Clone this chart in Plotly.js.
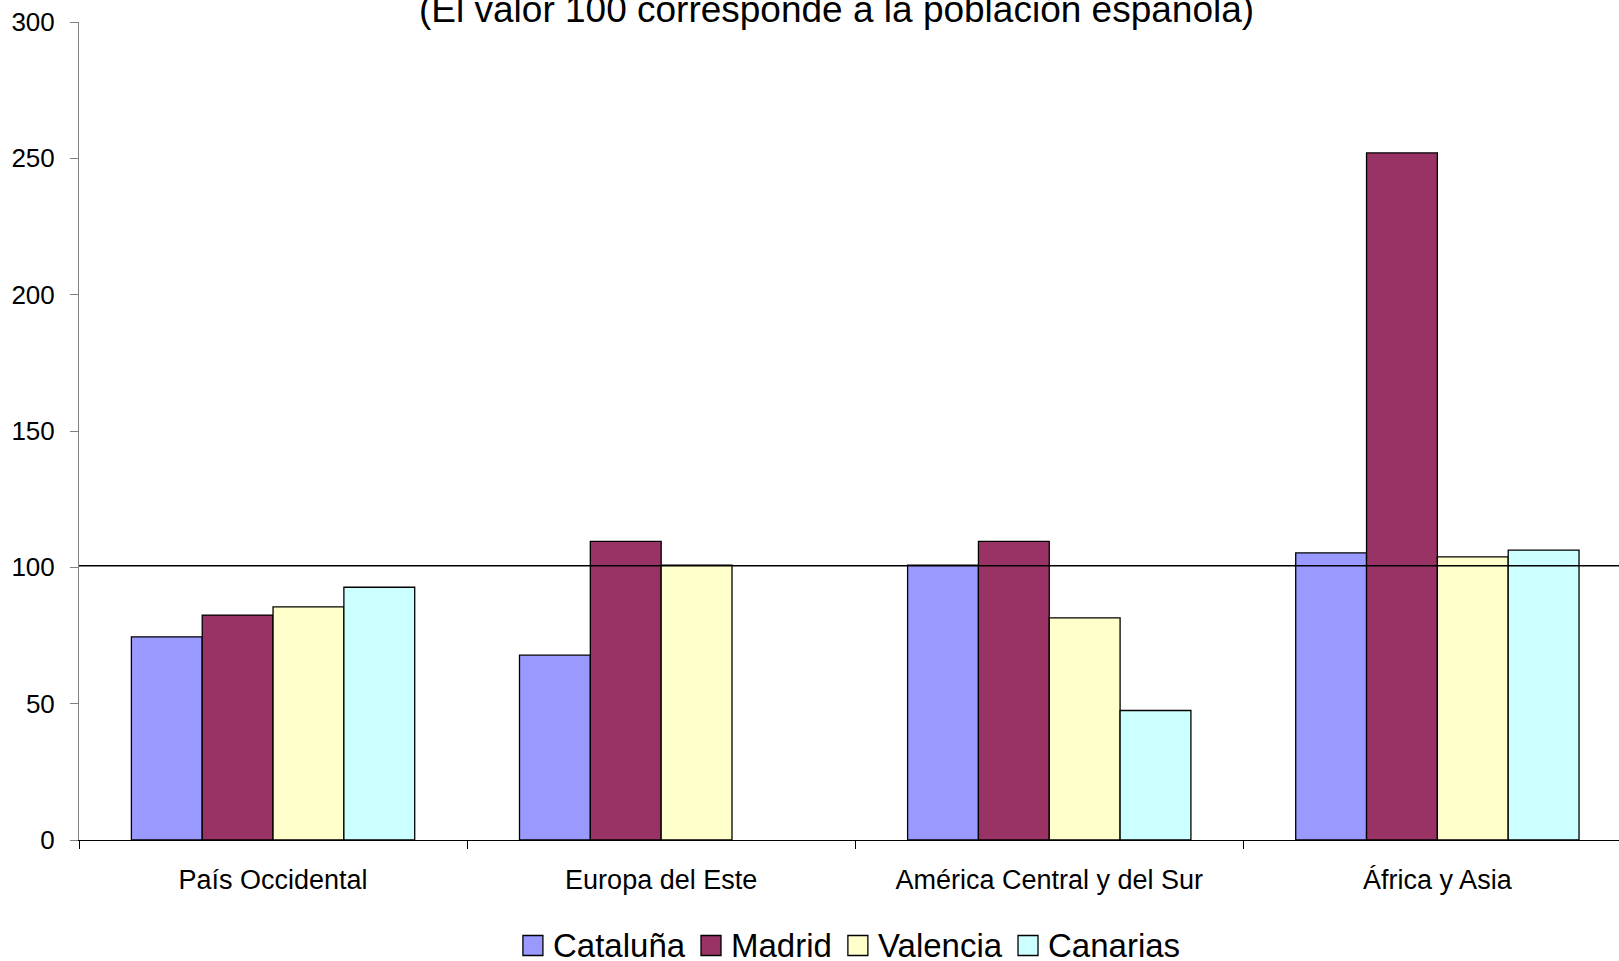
<!DOCTYPE html>
<html>
<head>
<meta charset="utf-8">
<script src="https://cdn.plot.ly/plotly-3.0.1.min.js"></script>
<style>html,body{margin:0;padding:0;background:#fff;}#chart{width:1619px;height:961px;}</style>
</head>
<body>
<div id="chart"></div>
<script>
// ---- data ----
const categories = ['País Occidental', 'Europa del Este', 'América Central y del Sur', 'África y Asia'];
const seriesNames = ['Cataluña', 'Madrid', 'Valencia', 'Canarias'];
const cataluna = [74.5, 67.8, 100.8, 105.3];
const madrid   = [82.5, 109.5, 109.5, 252.0];
const valencia = [85.5, 100.8, 81.5, 103.8];
const canarias = [92.7, null, 47.5, 106.3];
const referenceValue = 100.6;
const yTicks = [0, 50, 100, 150, 200, 250, 300];
const titleText = '(El valor 100 corresponde a la población española)';

// ---- style ----
const colors = ['#9999FF', '#993366', '#FFFFCC', '#CCFFFF'];
const FONT = '"Liberation Sans", Arial, sans-serif';
const W = 1619, H = 961;
const M = {l: 79, r: 0, t: 22, b: 121};
const plotW = W - M.l - M.r, plotH = H - M.t - M.b;
const pxX = px => (px - M.l) / plotW;
const pxY = py => (H - M.b - py) / plotH;

const seriesValues = [cataluna, madrid, valencia, canarias];
const traces = seriesNames.map((name, i) => ({
  type: 'bar',
  name: name,
  x: categories,
  y: seriesValues[i],
  marker: {color: colors[i], line: {color: '#000', width: 1.3}},
  showlegend: false,
  hoverinfo: 'x+y+name'
}));

// ---- manual legend (built from names/colors) ----
const legFontSize = 33;
const cv = document.createElement('canvas').getContext('2d');
cv.font = legFontSize + 'px "Liberation Sans"';
const sq = 20, gapSqText = 9, gapItem = 17;
const widths = seriesNames.map(n => cv.measureText(n).width);
let total = 0;
widths.forEach((w, i) => { total += sq + gapSqText + w + (i < widths.length - 1 ? gapItem : 0); });
const legCenterX = 851, legCenterY = 945.5;
let cx = legCenterX - total / 2;
const shapes = [{
  type: 'line', xref: 'paper', yref: 'y', x0: 0, x1: 1, y0: referenceValue, y1: referenceValue,
  line: {color: '#000', width: 1.5}, layer: 'above'
}];
const annotations = [{
  text: titleText, xref: 'paper', yref: 'paper', x: pxX(836), y: pxY(32),
  xanchor: 'center', yanchor: 'bottom', showarrow: false,
  font: {family: FONT, size: 37, color: '#000'}
}];
seriesNames.forEach((n, i) => {
  shapes.push({
    type: 'rect', xref: 'paper', yref: 'paper',
    x0: pxX(cx), x1: pxX(cx + sq), y0: pxY(legCenterY + sq / 2), y1: pxY(legCenterY - sq / 2),
    fillcolor: colors[i], line: {color: '#000', width: 1.3}
  });
  annotations.push({
    text: n, xref: 'paper', yref: 'paper', x: pxX(cx + sq + gapSqText - 1), y: pxY(legCenterY),
    xanchor: 'left', yanchor: 'middle', showarrow: false,
    font: {family: FONT, size: legFontSize, color: '#000'}
  });
  cx += sq + gapSqText + widths[i] + gapItem;
});

const layout = {
  width: W, height: H,
  margin: M,
  paper_bgcolor: '#fff', plot_bgcolor: '#fff',
  font: {family: FONT, color: '#000'},
  barmode: 'group', bargap: 0.27, bargroupgap: 0,
  showlegend: false,
  xaxis: {
    type: 'category', range: [-0.5, 3.468], tickson: 'boundaries',
    showline: true, linecolor: '#000', linewidth: 1,
    ticks: 'outside', ticklen: 8, tickcolor: '#000', tickwidth: 1,
    showgrid: false, zeroline: false,
    tickfont: {family: FONT, size: 27, color: '#000'},
    ticklabelstandoff: 16
  },
  yaxis: {
    range: [0, 300], tickvals: yTicks, ticktext: yTicks.map(String),
    showline: true, linecolor: '#808080', linewidth: 1,
    ticks: 'outside', ticklen: 8, tickcolor: '#808080', tickwidth: 1,
    showgrid: false, zeroline: false,
    tickfont: {family: FONT, size: 26, color: '#000'},
    ticklabelstandoff: 10
  },
  shapes: shapes,
  annotations: annotations
};

Plotly.newPlot('chart', traces, layout, {staticPlot: true, displayModeBar: false});
</script>
</body>
</html>
